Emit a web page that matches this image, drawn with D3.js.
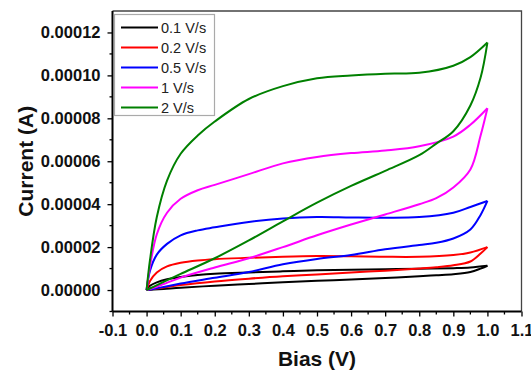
<!DOCTYPE html>
<html>
<head>
<meta charset="utf-8">
<title>CV loops</title>
<script src="https://cdn.jsdelivr.net/npm/d3@7"></script>
<style>
  body { margin: 0; background: #fff; }
  svg { display: block; font-family: Arial, "Liberation Sans", sans-serif; }
</style>
</head>
<body>
<script>
// scan rates (legend) and colours
var rates = ["0.1 V/s", "0.2 V/s", "0.5 V/s", "1 V/s", "2 V/s"];
var colors = ["#000000", "#ff0000", "#0000ff", "#ff00ff", "#008000"];

// bias points of forward sweep (0 -> 1 V) and reverse sweep (1 -> 0 V)
var biasFwd = [0, 0.01, 0.03, 0.06, 0.1, 0.15, 0.2, 0.3, 0.4, 0.5, 0.6, 0.7, 0.8, 0.9, 0.95, 1.0];
var biasRev = [1.0, 0.98, 0.95, 0.9, 0.85, 0.8, 0.7, 0.6, 0.5, 0.4, 0.3, 0.2, 0.1, 0.05, 0.02, 0];

// current, in units of 1e-5 A
var fwd01 = [0, 0.2, 0.36, 0.5, 0.61, 0.7, 0.76, 0.82, 0.87, 0.92, 0.95, 0.97, 0.99, 1.02, 1.05, 1.13];
var rev01 = [1.13, 1.0, 0.84, 0.74, 0.69, 0.64, 0.56, 0.49, 0.43, 0.36, 0.28, 0.2, 0.11, 0.05, 0.02, 0];
var fwd02 = [0, 0.42, 0.82, 1.1, 1.27, 1.38, 1.44, 1.5, 1.55, 1.58, 1.57, 1.55, 1.55, 1.63, 1.75, 2.0];
var rev02 = [2.0, 1.7, 1.33, 1.15, 1.06, 1.0, 0.9, 0.82, 0.72, 0.64, 0.53, 0.4, 0.23, 0.12, 0.05, 0];
var fwd05 = [0, 0.9, 1.65, 2.15, 2.55, 2.78, 2.92, 3.17, 3.33, 3.4, 3.38, 3.37, 3.4, 3.6, 3.87, 4.15];
var rev05 = [4.15, 3.5, 2.82, 2.4, 2.2, 2.1, 1.9, 1.63, 1.45, 1.2, 0.84, 0.57, 0.3, 0.14, 0.05, 0];
var fwd1 = [0, 1.1, 2.6, 3.6, 4.25, 4.65, 4.9, 5.4, 5.9, 6.2, 6.38, 6.5, 6.7, 7.15, 7.7, 8.47];
var rev1 = [8.47, 7.2, 5.62, 4.78, 4.28, 4.0, 3.52, 3.05, 2.55, 2.0, 1.48, 1.05, 0.58, 0.28, 0.1, 0];
var fwd2 = [0, 1.4, 3.4, 5.1, 6.35, 7.2, 7.85, 8.9, 9.5, 9.87, 10.0, 10.08, 10.12, 10.45, 10.85, 11.53];
var rev2 = [11.53, 9.9, 8.6, 7.4, 6.82, 6.28, 5.55, 4.85, 4.07, 3.2, 2.31, 1.48, 0.75, 0.38, 0.15, 0];

var fwdAll = [fwd01, fwd02, fwd05, fwd1, fwd2];
var revAll = [rev01, rev02, rev05, rev1, rev2];

// axis ticks
var xTicks = [-0.1, 0, 0.1, 0.2, 0.3, 0.4, 0.5, 0.6, 0.7, 0.8, 0.9, 1.0, 1.1];
var yTicks = [0, 2, 4, 6, 8, 10, 12];

var W = 531, H = 376;
var mL = 112.5, mR = 521.5, mT = 11, mB = 311.5;

var svg = d3.select("body").append("svg").attr("width", W).attr("height", H);

var x = d3.scaleLinear().domain([-0.1, 1.1]).range([mL, mR]);
var y = d3.scaleLinear().domain([-1, 13]).range([mB, mT]);

// frame top / right
svg.append("path")
  .attr("d", "M" + mL + "," + mT + "H" + mR + "V" + mB)
  .attr("fill", "none").attr("stroke", "#444").attr("stroke-width", 1.3);

// curves
var line = d3.line()
  .x(function(d){ return x(d[0]); })
  .y(function(d){ return y(d[1]); })
  .curve(d3.curveCatmullRom.alpha(0.5));

var g = svg.append("g");
for (var s = 0; s < rates.length; s++) {
  var f = biasFwd.map(function(b, i){ return [b, fwdAll[s][i]]; });
  var r = biasRev.map(function(b, i){ return [b, revAll[s][i]]; });
  [f, r].forEach(function(pts){
    g.append("path")
      .datum(pts)
      .attr("d", line)
      .attr("fill", "none")
      .attr("stroke", colors[s])
      .attr("stroke-width", 2)
      .attr("stroke-linejoin", "round");
  });
}

// x axis
var xMinor = d3.range(-0.05, 1.1, 0.1);
var xAx = svg.append("g").attr("transform", "translate(0," + mB + ")");
xAx.call(d3.axisBottom(x).tickValues(xTicks).tickSize(5).tickPadding(3)
  .tickFormat(function(d){ return d3.format(".1f")(d).replace("−", "-"); }));
xMinor.forEach(function(v){
  xAx.append("line").attr("x1", x(v)).attr("x2", x(v)).attr("y1", 0).attr("y2", 3)
    .attr("stroke", "#000").attr("stroke-width", 1.3);
});

// y axis
var yMinor = d3.range(-1, 13, 2);
var yAx = svg.append("g").attr("transform", "translate(" + mL + ",0)");
yAx.call(d3.axisLeft(y).tickValues(yTicks).tickSize(5).tickPadding(7)
  .tickFormat(function(d){ return (d * 1e-5).toFixed(5); }));
yMinor.forEach(function(v){
  yAx.append("line").attr("x1", 0).attr("x2", -3).attr("y1", y(v)).attr("y2", y(v))
    .attr("stroke", "#000").attr("stroke-width", 1.3);
});

[xAx, yAx].forEach(function(a){
  a.select(".domain").attr("stroke", "#000").attr("stroke-width", 2)
    .attr("d", a === xAx ? "M" + mL + ",0H" + mR : "M0," + mT + "V" + mB);
  a.selectAll(".tick line").attr("stroke", "#000").attr("stroke-width", 1.3);
  a.selectAll(".tick text").attr("fill", "#111").attr("font-size", 16.5).attr("font-weight", "bold")
    .attr("font-family", "Arial, 'Liberation Sans', sans-serif");
});
xAx.selectAll(".tick text").attr("dy", "1em");

// axis titles
svg.append("text")
  .attr("x", (mL + mR) / 2).attr("y", 366)
  .attr("text-anchor", "middle").attr("font-size", 21).attr("font-weight", "bold").attr("fill", "#111")
  .text("Bias (V)");
svg.append("text")
  .attr("transform", "translate(33," + ((mT + mB) / 2) + ") rotate(-90)")
  .attr("text-anchor", "middle").attr("font-size", 21).attr("font-weight", "bold").attr("fill", "#111")
  .text("Current (A)");

// legend
var leg = svg.append("g");
leg.append("rect").attr("x", 114.5).attr("y", 14.5).attr("width", 100).attr("height", 101)
  .attr("fill", "#fff").attr("stroke", "#aaa").attr("stroke-width", 1.2);
rates.forEach(function(name, i){
  var yy = 27.5 + i * 20;
  leg.append("line").attr("x1", 121).attr("x2", 158).attr("y1", yy).attr("y2", yy)
    .attr("stroke", colors[i]).attr("stroke-width", 2);
  leg.append("text").attr("x", 161).attr("y", yy + 5.5)
    .attr("font-size", 14.5).attr("fill", "#222").text(name);
});
</script>
</body>
</html>
